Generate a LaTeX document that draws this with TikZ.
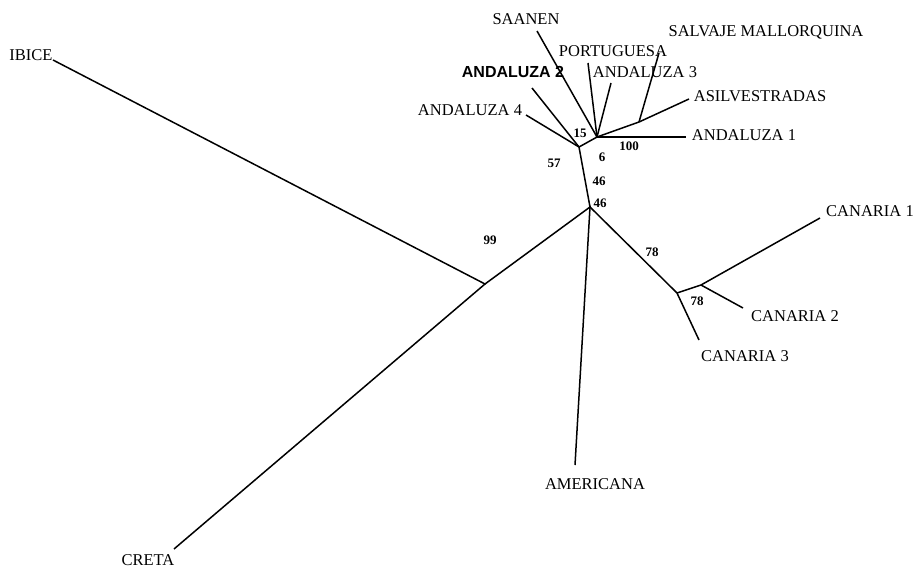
\documentclass[tikz,border=0pt]{standalone}
\usepackage{fontspec}
\setmainfont{Liberation Serif}
\newfontfamily\sansbold{Liberation Sans}

\begin{document}
\begin{tikzpicture}[x=1pt, y=-1pt, line width=1.5pt,
    taxon/.style={font=\fontsize{16.5}{18}\selectfont, inner sep=0pt},
    bootval/.style={font=\bfseries\fontsize{13}{15}\selectfont, inner sep=0pt}]

    \useasboundingbox (0,0) rectangle (918,572);

    % Internal nodes
    \coordinate (root) at (485,284);
    \coordinate (mid) at (590,207);
    \coordinate (can) at (677,293);
    \coordinate (can12) at (701,285);
    \coordinate (and) at (579,147);
    \coordinate (crown) at (597,137);
    \coordinate (salv) at (639,122);

    % Leaf tips
    \coordinate (ibice) at (53,60);
    \coordinate (creta) at (174,549);
    \coordinate (amer) at (575,465);
    \coordinate (can1) at (820,218);
    \coordinate (can2) at (743,308);
    \coordinate (can3) at (699,340);
    \coordinate (and4) at (526,115);
    \coordinate (and2) at (532,88);
    \coordinate (saanen) at (537,31);
    \coordinate (port) at (588,63);
    \coordinate (and3) at (611,83);
    \coordinate (salvaje) at (659,53);
    \coordinate (asil) at (689,99);
    \coordinate (and1) at (686,137);

    % Branches
    \draw (ibice) -- (root) -- (creta);
    \draw (root) -- (mid) -- (amer);
    \draw (mid) -- (can) -- (can3);
    \draw (can) -- (can12) -- (can1);
    \draw (can12) -- (can2);
    \draw (mid) -- (and) -- (and4);
    \draw (and) -- (and2);
    \draw (and) -- (crown) -- (saanen);
    \draw (crown) -- (port);
    \draw (crown) -- (and3);
    \draw (crown) -- (salv) -- (asil);
    \draw (salv) -- (salvaje);
    \draw (crown) -- (and1);

    % Taxa
    \node[taxon] (ibiceL) at (31,55) {IBICE};
    \node[taxon] (cretaL) at (148,560) {CRETA};
    \node[taxon] (amerL) at (595,484) {AMERICANA};
    \node[taxon] (can1L) at (870,211) {CANARIA 1};
    \node[taxon] (can2L) at (795,316) {CANARIA 2};
    \node[taxon] (can3L) at (745,356) {CANARIA 3};
    \node[taxon] (saanenL) at (526,19) {SAANEN};
    \node[taxon] (portL) at (613,51) {PORTUGUESA};
    \node[taxon] (salvajeL) at (766,32) {SALVAJE MALLORQUINA};
    \node[taxon, font=\sansbold\bfseries\fontsize{16}{18}\selectfont] (and2L) at (513,72) {ANDALUZA 2};
    \node[taxon] (and3L) at (645,72) {ANDALUZA 3};
    \node[taxon] (and4L) at (470,110) {ANDALUZA 4};
    \node[taxon] (asilL) at (760,96) {ASILVESTRADAS};
    \node[taxon] (and1L) at (744,135) {ANDALUZA 1};

    % Bootstrap values
    \node[bootval] (b99) at (490,240) {99};
    \node[bootval] (b78a) at (652,252) {78};
    \node[bootval] (b78b) at (697,301) {78};
    \node[bootval] (b46a) at (600,203) {46};
    \node[bootval] (b46b) at (599,181) {46};
    \node[bootval] (b57) at (554,163) {57};
    \node[bootval] (b6) at (602,157) {6};
    \node[bootval] (b15) at (580,133) {15};
    \node[bootval] (b100) at (629,146) {100};

\end{tikzpicture}
\end{document}
